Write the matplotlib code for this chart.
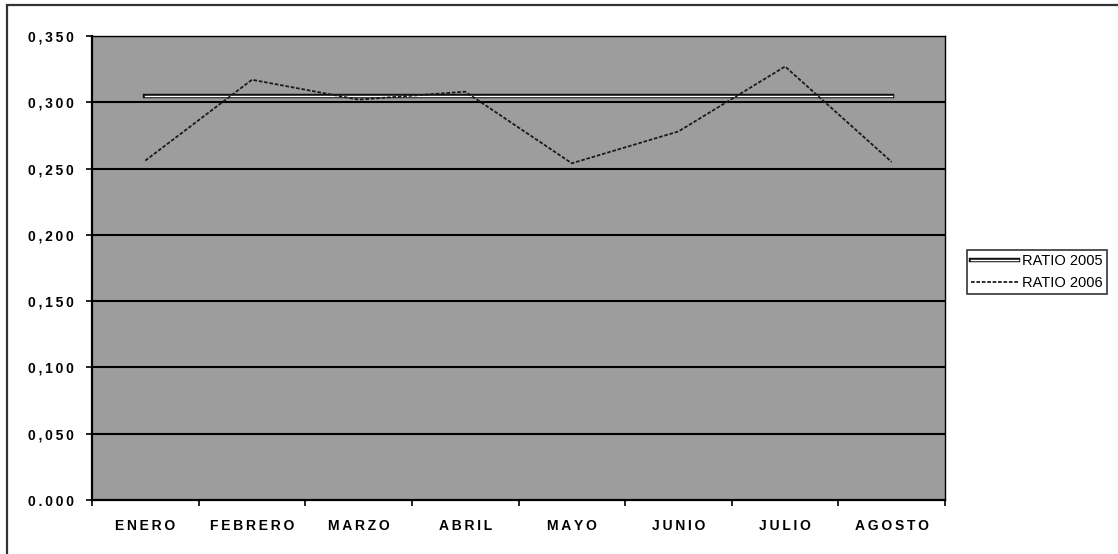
import matplotlib
matplotlib.use("Agg")
import matplotlib.pyplot as plt
import matplotlib.patheffects as pe
from matplotlib.patches import Rectangle

# datos del gráfico
meses = ["ENERO", "FEBRERO", "MARZO", "ABRIL", "MAYO", "JUNIO", "JULIO", "AGOSTO"]
ratio_2005 = [0.305, 0.305, 0.305, 0.305, 0.305, 0.305, 0.305, 0.305]
ratio_2006 = [0.256, 0.317, 0.302, 0.308, 0.254, 0.278, 0.327, 0.255]
eje_y = [0.000, 0.050, 0.100, 0.150, 0.200, 0.250, 0.300, 0.350]
etiquetas_y = ["0.000", "0,050", "0,100", "0,150", "0,200", "0,250", "0,300", "0,350"]

FUENTE = ["Liberation Sans", "DejaVu Sans"]


# letras un poco separadas, estilo Excel
def espaciar(txt):
    return "\u2009".join(txt)


fig = plt.figure(figsize=(11.18, 5.54), dpi=100)
fig.patch.set_facecolor("white")

# marco exterior del área del gráfico
fig.patches.append(Rectangle((7 / 1118, -0.02), 1.2, 1 - 5 / 554 + 0.02,
                             transform=fig.transFigure, fill=False,
                             edgecolor="#333333", linewidth=1.6))

ax = fig.add_axes([92 / 1118, 1 - 500 / 554, (945 - 92) / 1118, (500 - 36) / 554])
ax.set_facecolor("#9d9d9d")

x = list(range(len(meses)))

# líneas horizontales de la cuadrícula
for v in eje_y[1:]:
    ax.axhline(v, color="black", linewidth=1.5, zorder=1)

ax.plot(x, ratio_2005, color="white", linewidth=1.0, zorder=3, label="RATIO 2005",
        path_effects=[pe.Stroke(linewidth=3.2, foreground="#111111"), pe.Normal()])
ax.plot(x, ratio_2006, color="#1a1a1a", linewidth=1.3, linestyle=(0, (2, 1)),
        zorder=3, label="RATIO 2006")

ax.set_xlim(-0.5, len(meses) - 0.5)
ax.set_ylim(0, 0.35)

ax.set_yticks(eje_y)
ax.set_yticklabels([espaciar(t) for t in etiquetas_y], family=FUENTE,
                   fontweight="bold", fontsize=10)
ax.tick_params(axis="y", direction="out", length=4, width=1.2, pad=9)

ax.set_xticks(x)
ax.set_xticklabels([espaciar(m) for m in meses], family=FUENTE,
                   fontweight="bold", fontsize=10)
ax.tick_params(axis="x", which="major", length=0, pad=14)
ax.set_xticks([i + 0.5 for i in range(-1, len(meses))], minor=True)
ax.tick_params(axis="x", which="minor", direction="out", length=4, width=1.2)

for lado in ["left", "bottom"]:
    ax.spines[lado].set_linewidth(1.6)
for lado in ["top", "right"]:
    ax.spines[lado].set_linewidth(1.0)

leg = fig.legend(loc="center left", bbox_to_anchor=(967 / 1118, 1 - 272 / 554),
                 prop={"family": FUENTE, "size": 10.5}, frameon=True, fancybox=False,
                 handlelength=3.2, handletextpad=0.3, borderpad=0.3,
                 labelspacing=0.5, borderaxespad=0)
leg.get_frame().set_edgecolor("black")
leg.get_frame().set_linewidth(1.2)

fig.savefig("out.png", dpi=100)
